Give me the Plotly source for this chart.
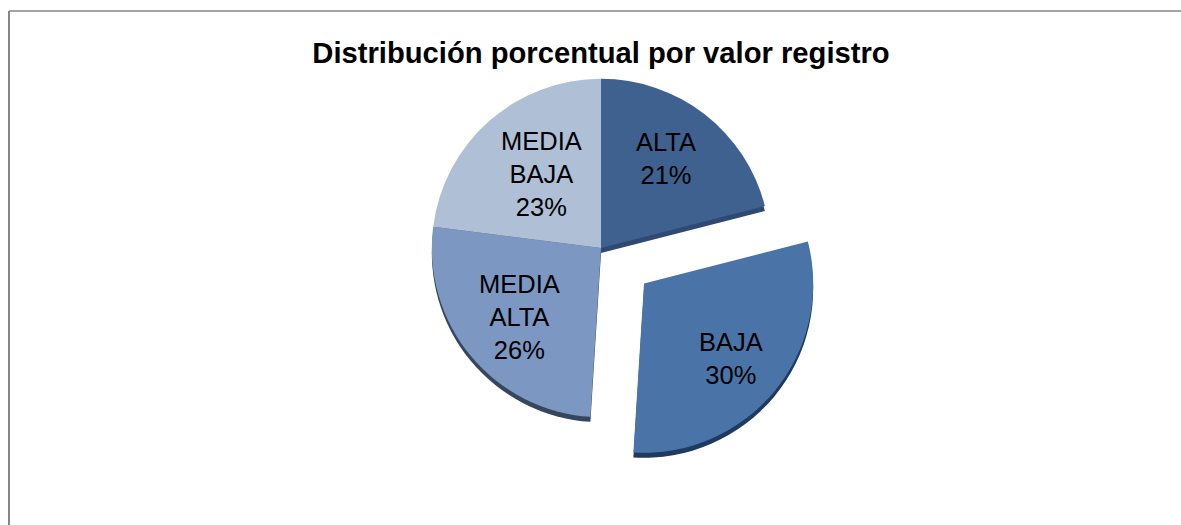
import plotly.graph_objects as go

categories = ["ALTA", "BAJA", "MEDIA<br>ALTA", "MEDIA<br>BAJA"]
values = [21, 30, 26, 23]
pulls = [0, 0.33, 0, 0]
colors = ["#3F618F", "#4A74A8", "#7C97C2", "#AFBFD6"]
rim_colors = ["#2F4A72", "#1F3A5F", "#34475F", "#34475F"]
title_text = "Distribución porcentual por valor registro"

W, H = 1181, 525
cx, cy, box = 601, 248, 450
rim = 5
FONT = "Liberation Sans, Arial, sans-serif"
# label anchor points in page pixels (centre of each text block)
label_centres = [(666, 158), (731, 358), (519, 317), (541, 174)]


def dom(dy=0):
    top = cy - box / 2 + dy
    bottom = cy + box / 2 + dy
    return dict(x=[(cx - box / 2) / W, (cx + box / 2) / W],
                y=[1 - bottom / H, 1 - top / H])


fig = go.Figure()
fig.add_trace(go.Pie(
    labels=categories, values=values, pull=pulls, sort=False, direction="clockwise",
    rotation=0, domain=dom(rim), marker=dict(colors=rim_colors, line=dict(width=0)),
    textinfo="none", hoverinfo="skip", showlegend=False,
))
fig.add_trace(go.Pie(
    labels=categories, values=values, pull=pulls, sort=False, direction="clockwise",
    rotation=0, domain=dom(0), marker=dict(colors=colors, line=dict(width=0)),
    textinfo="none", hovertemplate="%{label}: %{percent}<extra></extra>", showlegend=False,
))

total = sum(values)
annotations = [
    dict(text=f"{c}<br>{round(100 * v / total)}%", x=px / W, y=1 - py / H,
         xref="paper", yref="paper", xanchor="center", yanchor="middle", showarrow=False,
         font=dict(family=FONT, size=25.5, color="#000000"))
    for c, v, (px, py) in zip(categories, values, label_centres)
]

fig.update_layout(
    width=W, height=H, margin=dict(l=0, r=0, t=0, b=0),
    paper_bgcolor="#FFFFFF", showlegend=False,
    annotations=annotations,
    title=dict(text="<b>" + title_text + "</b>", x=601 / W, xanchor="center",
               y=1 - 53 / H, yanchor="middle",
               font=dict(family=FONT, size=29.2, color="#000000")),
    shapes=[
        dict(type="line", xref="paper", yref="paper", x0=9 / W, x1=1, y0=1 - 11 / H, y1=1 - 11 / H,
             line=dict(color="#868686", width=1.5)),
        dict(type="line", xref="paper", yref="paper", x0=9 / W, x1=9 / W, y0=0, y1=1 - 11 / H,
             line=dict(color="#868686", width=2)),
    ],
)
fig.write_html("out.html", config={"displayModeBar": False},
               post_script="document.body.style.margin='0';")
